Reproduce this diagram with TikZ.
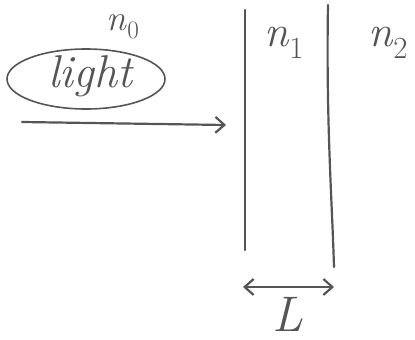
\documentclass[tikz,border=0pt]{standalone}
\usetikzlibrary{arrows.meta,shapes.geometric}
\definecolor{pencil}{HTML}{555555}
\newcommand{\nsub}[1]{\textit{n}\textsubscript{#1}}
\begin{document}
\begin{tikzpicture}[x=1pt,y=-1pt,
  ink/.style={draw=pencil,line width=2.2pt,line cap=round},
  lbl/.style={text=pencil,inner sep=0pt},
  tip/.style={-{Straight Barb[length=9pt,width=16pt]}}]
\useasboundingbox (0,0) rectangle (415,340);
% labels
\node[lbl,font=\fontsize{36}{38}\selectfont] (n0) at (123,27) {\nsub{0}};
\node[lbl,font=\fontsize{44}{46}\selectfont] (n1) at (284,43) {\nsub{1}};
\node[lbl,font=\fontsize{44}{46}\selectfont] (n2) at (388,43) {\nsub{2}};
\node[ellipse,draw=pencil,line width=1.6pt,minimum width=158pt,minimum height=60pt,inner sep=0pt] (ell) at (86,79) {};
\node[lbl,font=\fontsize{46}{48}\selectfont\itshape] (light) at (90,76) {light};
% incoming light arrow
\coordinate (a0) at (22,122);
\coordinate (a1) at (226,125);
\draw[ink,tip] (a0) -- (a1);
% interfaces
\coordinate (w1t) at (245,10);
\coordinate (w1b) at (245,250);
\coordinate (w2t) at (328,5);
\coordinate (w2b) at (334,267);
\draw[ink] (w1t) -- (w1b);
\draw[ink] (w2t) .. controls (326,120) and (332,200) .. (w2b);
% thickness
\coordinate (d0) at (243,287);
\coordinate (d1) at (334,287);
\draw[ink,{Straight Barb[length=9pt,width=16pt]}-{Straight Barb[length=9pt,width=16pt]}] (d0) -- (d1);
\node[lbl,font=\fontsize{50}{52}\selectfont\itshape] (L) at (288,314) {L};
\end{tikzpicture}
\end{document}
